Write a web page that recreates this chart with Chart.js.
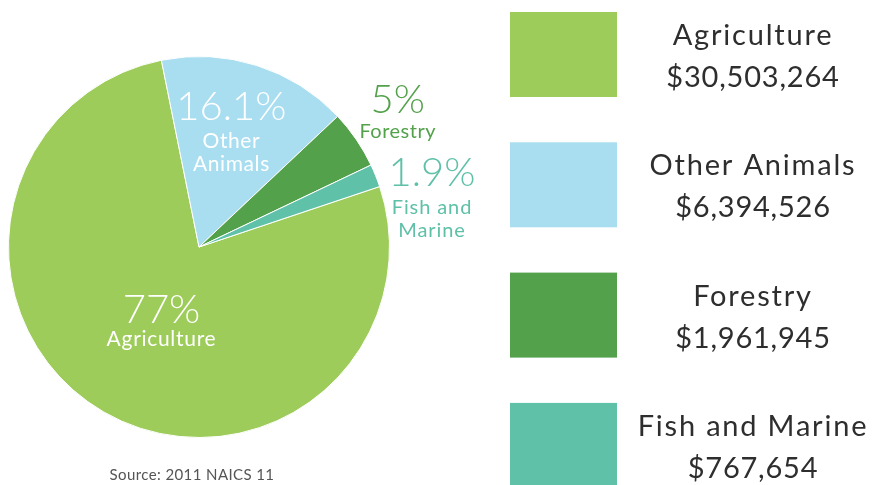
<!DOCTYPE html>
<html>
<head>
<meta charset="utf-8">
<script src="https://cdn.jsdelivr.net/npm/chart.js@4/dist/chart.umd.min.js"></script>
<style>
html,body{margin:0;padding:0;background:#fff;}
#wrap{position:relative;width:887px;height:485px;}
</style>
</head>
<body>
<div id="wrap"><canvas id="c" width="887" height="485"></canvas></div>
<script>
const categories = ["Agriculture", "Other Animals", "Forestry", "Fish and Marine"];
const values = [30503264, 6394526, 1961945, 767654];
const percentLabels = ["77%", "16.1%", "5%", "1.9%"];
const sliceNames = [["Agriculture"], ["Other", "Animals"], ["Forestry"], ["Fish and", "Marine"]];
const colors = ["#9dcc5a", "#a9ddf0", "#53a24b", "#60c1a9"];
const sourceText = "Source: 2011 NAICS 11";

// label placement relative to pie centre, in units of radius
const labelStyle = [
  {dx: -0.197, dy: 0.399, color: "#ffffff", gap: 23, pctSize: 40, nameSize: 21, ls: 0.7},
  {dx: 0.170, dy: -0.665, color: "#ffffff", gap: 28, pctSize: 40, nameSize: 21, ls: 0.6},
  {dx: 1.043, dy: -0.702, color: "#53a24b", gap: 25, pctSize: 40, nameSize: 20, ls: 0.5},
  {dx: 1.223, dy: -0.319, color: "#5fc0a8", gap: 28, pctSize: 40, nameSize: 20, ls: 0.9}
];

const FONT = "Lato, 'Open Sans', sans-serif";

function fmtMoney(v){ return "$" + v.toLocaleString("en-US"); }

const labelsPlugin = {
  id: "sliceLabels",
  afterDatasetsDraw(chart){
    const ctx = chart.ctx;
    const arc = chart.getDatasetMeta(0).data[0];
    const cx = arc.x, cy = arc.y, r = arc.outerRadius;
    ctx.save();
    ctx.textAlign = "center";
    ctx.textBaseline = "alphabetic";
    labelStyle.forEach((s, i) => {
      const x = cx + s.dx * r;
      const y = cy + s.dy * r;
      ctx.fillStyle = s.color;
      ctx.letterSpacing = "0px";
      ctx.font = "300 " + s.pctSize + "px " + FONT;
      ctx.fillText(percentLabels[i], x, y);
      ctx.font = "400 " + s.nameSize + "px " + FONT;
      ctx.letterSpacing = s.ls + "px";
      sliceNames[i].forEach((ln, k) => {
        ctx.fillText(ln, x, y + s.gap + k * 23);
      });
    });
    // source
    ctx.fillStyle = "#555555";
    ctx.letterSpacing = "0.4px";
    ctx.font = "400 15px " + FONT;
    ctx.fillText(sourceText, 192, 480);
    ctx.restore();
  }
};

const legendPlugin = {
  id: "sideLegend",
  afterDraw(chart){
    const ctx = chart.ctx;
    ctx.save();
    const bx = 510, bw = 107, bh = 85, top0 = 12, step = 130.3;
    categories.forEach((name, i) => {
      const by = top0 + i * step;
      ctx.fillStyle = colors[i];
      ctx.fillRect(bx, by, bw, bh);
      ctx.fillStyle = "#2e2e2e";
      ctx.textAlign = "center";
      ctx.textBaseline = "alphabetic";
      ctx.font = "400 29px " + FONT;
      ctx.letterSpacing = "1.8px";
      ctx.fillText(name, 753, by + 33);
      ctx.letterSpacing = "0.8px";
      ctx.fillText(fmtMoney(values[i]), 753, by + 75);
    });
    ctx.restore();
  }
};

new Chart(document.getElementById("c"), {
  type: "pie",
  data: {
    labels: categories,
    datasets: [{
      data: values,
      backgroundColor: colors,
      borderColor: "#ffffff",
      borderWidth: 1
    }]
  },
  options: {
    responsive: false,
    animation: false,
    rotation: 71.5,
    layout: {padding: {left: 8, right: 497, top: 56, bottom: 47}},
    plugins: {
      legend: {display: false},
      tooltip: {enabled: false}
    }
  },
  plugins: [labelsPlugin, legendPlugin]
});
</script>
</body>
</html>
